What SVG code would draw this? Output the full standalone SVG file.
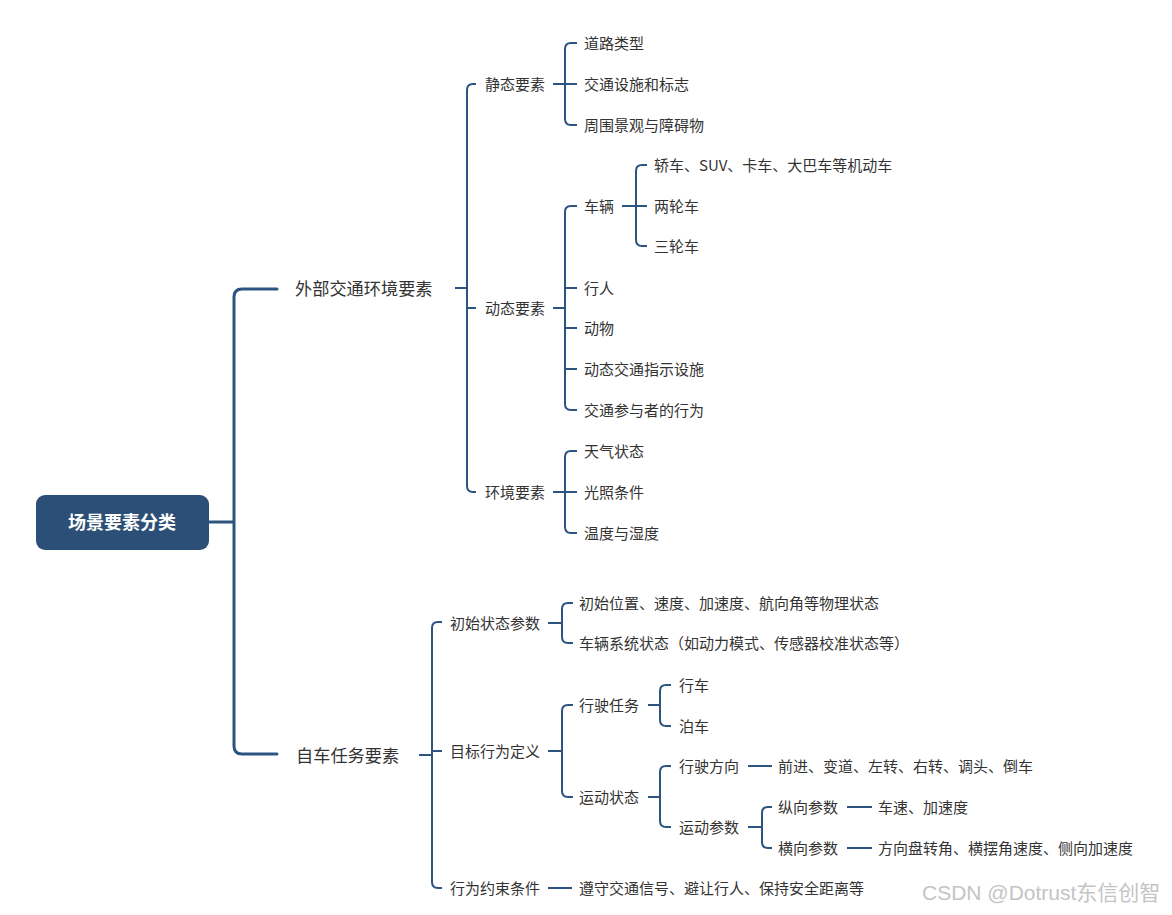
<svg xmlns="http://www.w3.org/2000/svg" width="1172" height="915" viewBox="0 0 1172 915">
<style>
text{font-family:"Noto Sans CJK SC","Liberation Sans",sans-serif;fill:#333;dominant-baseline:central}
.l1{font-size:17.2px}
.l2{font-size:15px}
.root{font-size:18px;font-weight:bold;fill:#fff;text-anchor:middle}
.c1{fill:none;stroke:#2d5481;stroke-width:3;stroke-linecap:round}
.c2{fill:none;stroke:#2d5481;stroke-width:2}
.wm{font-size:21px;fill:#c4c4c4;font-family:"Liberation Sans","Noto Sans CJK SC",sans-serif}
</style>
<rect width="1172" height="915" fill="#fff"/>
<g id="connectors">
<path class="c1" d="M209,522 H234 M277,289 H242 Q234,289 234,297 V746 Q234,754 242,754 H277"/>
<path class="c2" d="M455,288 H467 M476,84 H473 Q467,84 467,90 V486 Q467,492 473,492 H476 M467,308 H476"/>
<path class="c2" d="M553,84 H565 M577,43 H571 Q565,43 565,49 V119 Q565,125 571,125 H577 M565,84 H577"/>
<path class="c2" d="M553,308 H565 M577,206 H571 Q565,206 565,212 V404 Q565,410 571,410 H577 M565,288 H577 M565,328 H577 M565,369 H577"/>
<path class="c2" d="M622,206 H636 M647,165 H642 Q636,165 636,171 V240 Q636,246 642,246 H647 M636,206 H647"/>
<path class="c2" d="M553,492 H565 M577,451 H571 Q565,451 565,457 V527 Q565,533 571,533 H577 M565,492 H577"/>
<path class="c2" d="M419,755 H432 M442,622 H438 Q432,622 432,628 V882 Q432,888 438,888 H442 M432,751 H442"/>
<path class="c2" d="M548,623 H562 M573,603 H568 Q562,603 562,609 V637 Q562,643 568,643 H573"/>
<path class="c2" d="M548,751 H562 M573,705 H568 Q562,705 562,711 V791 Q562,797 568,797 H573"/>
<path class="c2" d="M648,705 H660 M671,685 H666 Q660,685 660,691 V720 Q660,726 666,726 H671"/>
<path class="c2" d="M648,797 H660 M671,766 H666 Q660,766 660,772 V821 Q660,827 666,827 H671"/>
<path class="c2" d="M748,766 H772"/>
<path class="c2" d="M748,827 H762 M772,807 H768 Q762,807 762,813 V842 Q762,848 768,848 H772"/>
<path class="c2" d="M847,807 H872 M847,848 H872"/>
<path class="c2" d="M548,888 H572"/>
</g>
<g id="root"><rect x="36" y="495" width="173" height="55" rx="9" fill="#2b4f76"/><text class="root" x="122" y="521">场景要素分类</text></g>
<g id="n-waibu"><text class="l1" x="295" y="287">外部交通环境要素</text></g>
<g id="n-jingtai"><text class="l2" x="485" y="83">静态要素</text></g>
<g id="n-daolu"><text class="l2" x="584" y="42">道路类型</text></g>
<g id="n-sheshi"><text class="l2" x="584" y="83">交通设施和标志</text></g>
<g id="n-zhouwei"><text class="l2" x="584" y="124">周围景观与障碍物</text></g>
<g id="n-dongtai"><text class="l2" x="485" y="307">动态要素</text></g>
<g id="n-cheliang"><text class="l2" x="584" y="205">车辆</text></g>
<g id="n-jiaoche"><text class="l2" x="654" y="164">轿车、SUV、卡车、大巴车等机动车</text></g>
<g id="n-lianglun"><text class="l2" x="654" y="205">两轮车</text></g>
<g id="n-sanlun"><text class="l2" x="654" y="245">三轮车</text></g>
<g id="n-xingren"><text class="l2" x="584" y="287">行人</text></g>
<g id="n-dongwu"><text class="l2" x="584" y="327">动物</text></g>
<g id="n-zhishi"><text class="l2" x="584" y="368">动态交通指示设施</text></g>
<g id="n-xingwei"><text class="l2" x="584" y="409">交通参与者的行为</text></g>
<g id="n-huanjing"><text class="l2" x="485" y="491">环境要素</text></g>
<g id="n-tianqi"><text class="l2" x="584" y="450">天气状态</text></g>
<g id="n-guangzhao"><text class="l2" x="584" y="491">光照条件</text></g>
<g id="n-wendu"><text class="l2" x="584" y="532">温度与湿度</text></g>
<g id="n-ziche"><text class="l1" x="296" y="754">自车任务要素</text></g>
<g id="n-chushi"><text class="l2" x="450" y="622">初始状态参数</text></g>
<g id="n-weizhi"><text class="l2" x="579" y="602">初始位置、速度、加速度、航向角等物理状态</text></g>
<g id="n-xitong"><text class="l2" x="579" y="642">车辆系统状态（如动力模式、传感器校准状态等）</text></g>
<g id="n-mubiao"><text class="l2" x="450" y="750">目标行为定义</text></g>
<g id="n-renwu"><text class="l2" x="579" y="704">行驶任务</text></g>
<g id="n-xingche"><text class="l2" x="679" y="684">行车</text></g>
<g id="n-boche"><text class="l2" x="679" y="725">泊车</text></g>
<g id="n-yundong"><text class="l2" x="579" y="796">运动状态</text></g>
<g id="n-fangxiang"><text class="l2" x="679" y="765">行驶方向</text></g>
<g id="n-fangxiangval"><text class="l2" x="778" y="765">前进、变道、左转、右转、调头、倒车</text></g>
<g id="n-canshu"><text class="l2" x="679" y="826">运动参数</text></g>
<g id="n-zongxiang"><text class="l2" x="778" y="806">纵向参数</text></g>
<g id="n-zongval"><text class="l2" x="878" y="806">车速、加速度</text></g>
<g id="n-hengxiang"><text class="l2" x="778" y="847">横向参数</text></g>
<g id="n-hengval"><text class="l2" x="878" y="847">方向盘转角、横摆角速度、侧向加速度</text></g>
<g id="n-yueshu"><text class="l2" x="450" y="887">行为约束条件</text></g>
<g id="n-zunshou"><text class="l2" x="579" y="887">遵守交通信号、避让行人、保持安全距离等</text></g>
<text class="wm" x="922" y="892">CSDN @Dotrust东信创智</text>
</svg>
